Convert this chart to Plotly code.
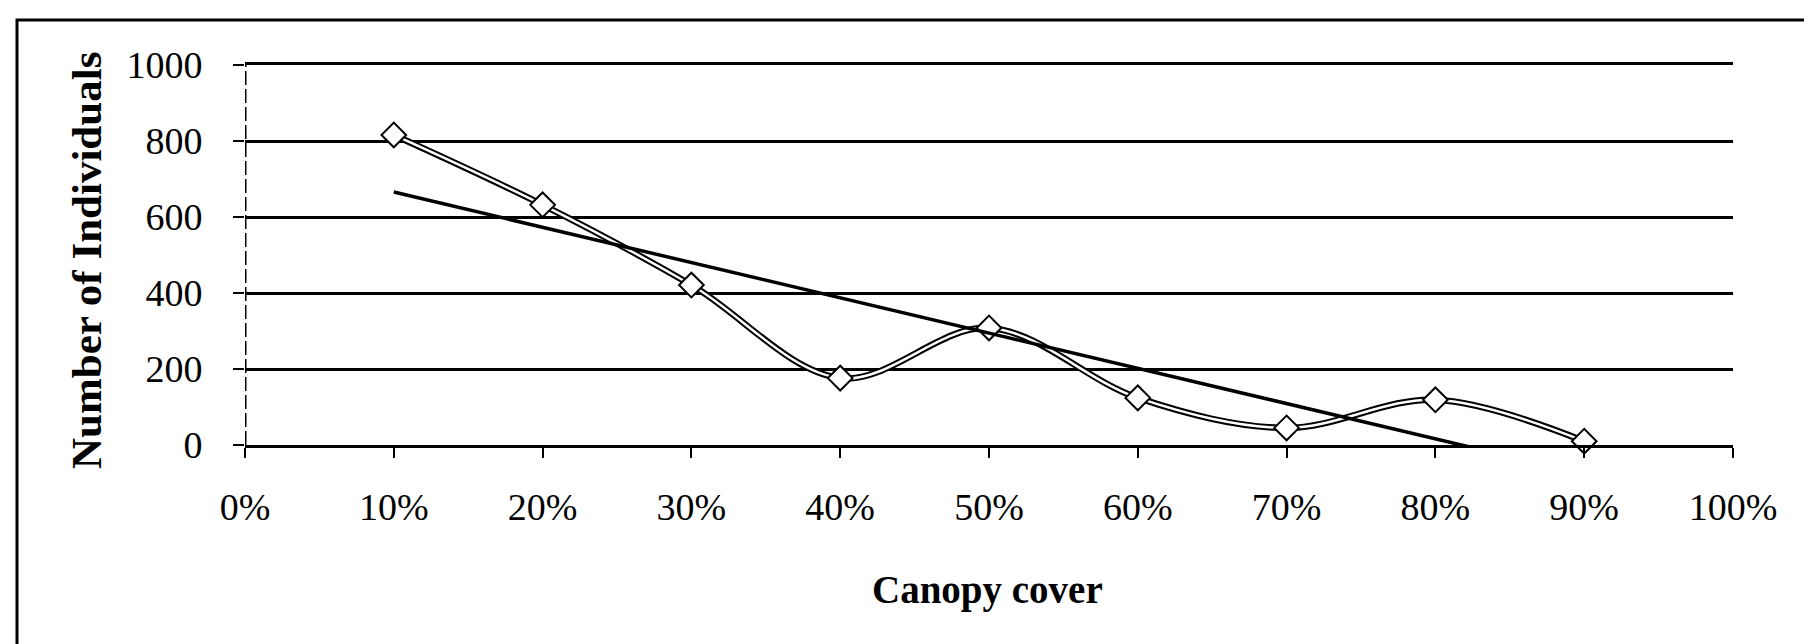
import numpy as np
import plotly.graph_objects as go

# Data
canopy_cover = [0.1, 0.2, 0.3, 0.4, 0.5, 0.6, 0.7, 0.8, 0.9]
individuals = [816, 632, 421, 176, 308, 124, 45, 119, 10]
x_ticks = [0, 0.1, 0.2, 0.3, 0.4, 0.5, 0.6, 0.7, 0.8, 0.9, 1.0]
x_ticklabels = ["0%", "10%", "20%", "30%", "40%", "50%", "60%", "70%", "80%", "90%", "100%"]
y_ticks = [0, 200, 400, 600, 800, 1000]

# Linear trendline (least squares) from the data
slope, intercept = np.polyfit(canopy_cover, individuals, 1)
trend_x = [canopy_cover[0], canopy_cover[-1]]
trend_y = [slope * v + intercept for v in trend_x]

FONT = "Liberation Serif"

fig = go.Figure()

# double line: thick black under, thin white over
fig.add_trace(go.Scatter(
    x=canopy_cover, y=individuals, mode="lines",
    line=dict(color="black", width=6.5, shape="spline", smoothing=1.0),
    hoverinfo="skip", showlegend=False,
))
fig.add_trace(go.Scatter(
    x=canopy_cover, y=individuals, mode="lines+markers",
    line=dict(color="white", width=2.5, shape="spline", smoothing=1.0),
    marker=dict(symbol="diamond", size=19, color="white",
                line=dict(color="black", width=2)),
    cliponaxis=False, showlegend=False,
))
fig.add_trace(go.Scatter(
    x=trend_x, y=trend_y, mode="lines",
    line=dict(color="black", width=3.5),
    hoverinfo="skip", showlegend=False,
))

# plot-area geometry in pixels (for paper-coordinate conversions)
W, H = 1812, 644
L, R, T, B = 237, 1725, 57, 437
pw, ph = R - L, B - T

def px_x(p):
    return (p - L) / pw

def px_y(p):
    return (B - p) / ph

fig.update_layout(
    width=W, height=H, autosize=False,
    margin=dict(l=L, r=W - R, t=T, b=H - B),
    paper_bgcolor="white", plot_bgcolor="white",
    font=dict(family=FONT, color="black", size=38),
    xaxis=dict(
        range=[0, 1], tickvals=x_ticks, ticktext=x_ticklabels,
        showgrid=False, zeroline=False, automargin=False,
        showline=True, mirror=True, linecolor="black", linewidth=2.5,
        ticks="outside", ticklen=10, tickwidth=2, tickcolor="black",
        ticklabelstandoff=17,
        tickfont=dict(family=FONT, size=38, color="black"),
    ),
    yaxis=dict(
        range=[0, 1000], tickvals=y_ticks,
        showgrid=True, gridcolor="black", gridwidth=2.5,
        zeroline=False, showline=False, automargin=False,
        ticks="outside", ticklen=11, tickwidth=2, tickcolor="black",
        ticklabelstandoff=23,
        tickfont=dict(family=FONT, size=38, color="black"),
    ),
    shapes=[
        # dashed-looking vertical axis line
        dict(type="line", xref="x", yref="y", x0=0, x1=0, y0=0, y1=1000,
             line=dict(color="black", width=3, dash="14px,4px")),
        # outer frame
        dict(type="rect", xref="paper", yref="paper",
             x0=px_x(9), x1=px_x(1806), y0=px_y(670), y1=px_y(12),
             line=dict(color="black", width=3), layer="below"),
    ],
    annotations=[
        dict(text="<b>Canopy cover</b>", xref="paper", yref="paper",
             x=px_x(979), y=px_y(582), xanchor="center", yanchor="middle",
             showarrow=False, font=dict(family=FONT, size=39, color="black")),
        dict(text="<b>Number of Individuals</b>", xref="paper", yref="paper",
             x=px_x(78), y=px_y(253), xanchor="center", yanchor="middle",
             textangle=-90, showarrow=False,
             font=dict(family=FONT, size=43, color="black")),
    ],
)

fig.write_html("out.html")
